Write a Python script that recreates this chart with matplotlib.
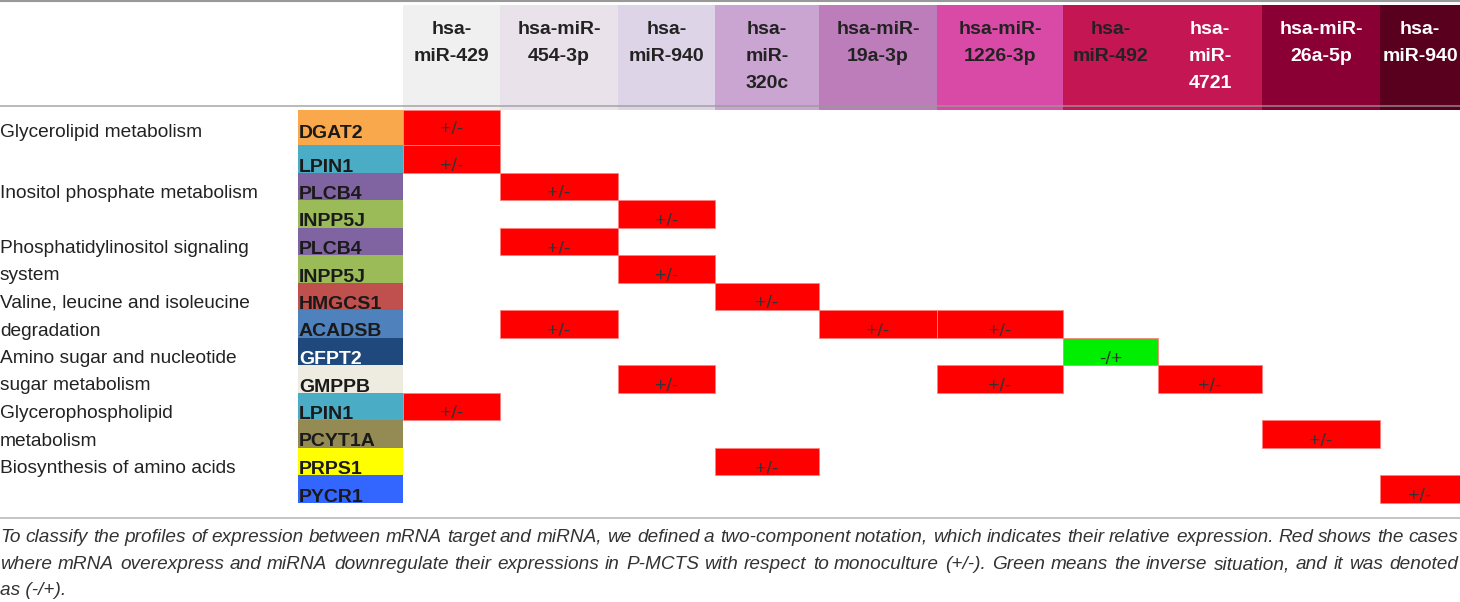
import matplotlib
matplotlib.use('Agg')
import matplotlib.pyplot as plt
from matplotlib.patches import Rectangle
from matplotlib import font_manager

# data
mirnas = ['hsa-\nmiR-429', 'hsa-miR-\n454-3p', 'hsa-\nmiR-940', 'hsa-\nmiR-\n320c',
          'hsa-miR-\n19a-3p', 'hsa-miR-\n1226-3p', 'hsa-\nmiR-492', 'hsa-\nmiR-\n4721',
          'hsa-miR-\n26a-5p', 'hsa-\nmiR-940']
mirna_colors = ['#f0f0f0', '#e9e2ea', '#ddd4e8', '#caa5d2', '#bd7dbb', '#d84aa5',
                '#c41652', '#c41652', '#8a0034', '#58001d']
mirna_text = ['#222222'] * 7 + ['white'] * 3

genes = ['DGAT2', 'LPIN1', 'PLCB4', 'INPP5J', 'PLCB4', 'INPP5J', 'HMGCS1', 'ACADSB',
         'GFPT2', 'GMPPB', 'LPIN1', 'PCYT1A', 'PRPS1', 'PYCR1']
gene_colors = ['#f9a94b', '#4bacc6', '#8064a2', '#9bbb59', '#8064a2', '#9bbb59', '#c0504d',
               '#4f81bd', '#1f497d', '#eeece1', '#4bacc6', '#948a54', '#ffff00', '#3366ff']

pathways = ['Glycerolipid metabolism', '', 'Inositol phosphate metabolism', '',
            'Phosphatidylinositol signaling', 'system', 'Valine, leucine and isoleucine',
            'degradation', 'Amino sugar and nucleotide', 'sugar metabolism',
            'Glycerophospholipid', 'metabolism', 'Biosynthesis of amino acids', '']

# (gene row, miRNA column, notation)
marks = [(0, 0, '+/-'), (1, 0, '+/-'), (2, 1, '+/-'), (3, 2, '+/-'), (4, 1, '+/-'),
         (5, 2, '+/-'), (6, 3, '+/-'), (7, 1, '+/-'), (7, 4, '+/-'), (7, 5, '+/-'),
         (8, 6, '-/+'), (9, 2, '+/-'), (9, 5, '+/-'), (9, 7, '+/-'), (10, 0, '+/-'),
         (11, 8, '+/-'), (12, 3, '+/-'), (13, 9, '+/-')]
mark_colors = {'+/-': '#ff0000', '-/+': '#00ee00'}

caption = ['To classify the profiles of expression between mRNA target and miRNA, we defined a two-component notation, which indicates their relative expression. Red shows the cases',
           'where mRNA overexpress and miRNA downregulate their expressions in P-MCTS with respect to monoculture (+/-). Green means the inverse situation, and it was denoted',
           'as (-/+).']

# layout (pixels)
col_x = [403, 500, 618, 715, 819, 937, 1063, 1158, 1262, 1380, 1460]
row_y = [110] + [145 + 27.5 * i for i in range(14)]
gene_x = 298


def pick(names):
    for n in names:
        try:
            font_manager.findfont(n, fallback_to_default=False)
            return n
        except Exception:
            pass
    return 'DejaVu Sans'


narrow = pick(['Liberation Sans Narrow', 'Liberation Sans'])
sans = pick(['Liberation Sans', 'DejaVu Sans'])

fig = plt.figure(figsize=(14.6, 6.02), dpi=100)
ax = fig.add_axes([0, 0, 1, 1])
ax.set_xlim(0, 1460)
ax.set_ylim(602, 0)
ax.axis('off')

# header
for j, lab in enumerate(mirnas):
    x0, x1 = col_x[j], col_x[j + 1]
    ax.add_patch(Rectangle((x0, 5), x1 - x0, 105, color=mirna_colors[j], lw=0))
    for k, part in enumerate(lab.split('\n')):
        ax.text((x0 + x1) / 2, 34 + 27 * k, part, ha='center', va='baseline',
                fontsize=14, fontweight='bold', family=narrow, color=mirna_text[j])

# rules
ax.plot([0, 1460], [0.8, 0.8], color='#999999', lw=1.5)
ax.plot([0, 1460], [106, 106], color='#999999', lw=1.2, alpha=0.8)
ax.plot([0, 1460], [518, 518], color='#bbbbbb', lw=1.2)

# gene rows
for i, g in enumerate(genes):
    y0, y1 = row_y[i], row_y[i + 1]
    ax.add_patch(Rectangle((gene_x, y0), col_x[0] - gene_x, y1 - y0,
                           color=gene_colors[i], lw=0))
    yb = y1 - 7 if i == 0 else y1 - 1
    ax.text(gene_x + 1, yb, g, ha='left', va='baseline', fontsize=14,
            fontweight='bold', family=narrow,
            color='white' if g == 'GFPT2' else '#1a1a1a')
    if pathways[i]:
        ax.text(0, yb - 1, pathways[i], ha='left', va='baseline', fontsize=13.8,
                family=sans, color='#222222')

for r, c, s in marks:
    x0, x1 = col_x[c], col_x[c + 1]
    y0, y1 = row_y[r], row_y[r + 1]
    ax.add_patch(Rectangle((x0, y0), x1 - x0, y1 - y0, facecolor=mark_colors[s],
                           edgecolor='#ff8080', lw=0.6))
    yt = y1 - 15 if r == 0 else y1 - 6
    ax.text((x0 + x1) / 2, yt, s, ha='center', va='center', fontsize=14,
            family=sans, color='#333333')

# caption, justified
fig.canvas.draw()
rend = fig.canvas.get_renderer()


def width_of(s, size):
    t = ax.text(0, 0, s, fontsize=size, style='italic', family=sans)
    w = t.get_window_extent(rend).width
    t.remove()
    return w


cap_size = 12 * min(1458 / width_of(caption[0], 12), 1458 / width_of(caption[1], 12))
cap_y = [542, 569, 595]
for k, line in enumerate(caption):
    if k == len(caption) - 1:
        ax.text(0, cap_y[k], line, ha='left', va='baseline', fontsize=cap_size,
                style='italic', family=sans, color='#333333')
        continue
    words = line.split(' ')
    widths = [width_of(w, cap_size) for w in words]
    gap = (1458 - sum(widths)) / (len(words) - 1)
    x = 0
    for w, wd in zip(words, widths):
        ax.text(round(x), cap_y[k], w, ha='left', va='baseline', fontsize=cap_size,
                style='italic', family=sans, color='#333333')
        x += wd + gap

fig.savefig('out.png', dpi=100)
